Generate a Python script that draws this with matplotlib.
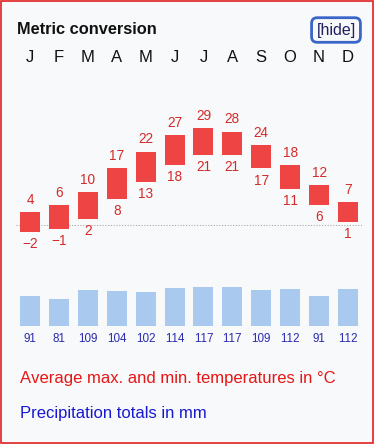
import matplotlib.pyplot as plt
import matplotlib.transforms as mtransforms
from matplotlib.patches import Rectangle

plt.rcParams['font.family'] = ['Liberation Sans', 'DejaVu Sans']
plt.rcParams['text.kerning_factor'] = 6  # el navegador no junta los "11"

# Daten
meses = ["J", "F", "M", "A", "M", "J", "J", "A", "S", "O", "N", "D"]
t_max = [4, 6, 10, 17, 22, 27, 29, 28, 24, 18, 12, 7]
t_min = [-2, -1, 2, 8, 13, 18, 21, 21, 17, 11, 6, 1]
precip = [91, 81, 109, 104, 102, 114, 117, 117, 109, 112, 91, 112]

W, H = 375, 444
fondo = "#f8f9fa"
rojo_barra = "#ef4444"
rojo_texto = "#d42a2a"
azul_barra = "#aac9ee"
azul_texto = "#2a2ab0"

fig = plt.figure(figsize=(W / 100, H / 100), dpi=100)
fig.patch.set_facecolor(fondo)

def caja(left, top, width, height):
    # convierte pixeles a fraccion de la figura
    return [left / W, (H - top - height) / H, width / W, height / H]

# temperaturas
ax_t = fig.add_axes(caja(15.55, 114.8, 346.9, 130.65))
ax_t.set_xlim(-0.5, 11.5)
ax_t.set_ylim(-6, 33)
x = list(range(12))
alturas = [a - b for a, b in zip(t_max, t_min)]
ax_t.bar(x, alturas, bottom=t_min, width=0.69, color=rojo_barra, zorder=2)
ax_t.axhline(0, color="#aaaaaa", lw=0.8, ls=(0, (1, 1.5)), zorder=1)
for i in x:
    ax_t.annotate(str(t_max[i]), (i, t_max[i]), xytext=(0, 8.8), textcoords="offset points",
                  ha="center", va="center", color=rojo_texto, fontsize=9.8)
    txt = str(t_min[i]).replace("-", "\u2212")
    ax_t.annotate(txt, (i, t_min[i]), xytext=(0, -8.8), textcoords="offset points",
                  ha="center", va="center", color=rojo_texto, fontsize=9.8)
ax_t.axis("off")

# letras de los meses
trans = mtransforms.blended_transform_factory(ax_t.transData, fig.transFigure)
for i, m in enumerate(meses):
    ax_t.text(i, 1 - 58 / H, m, transform=trans, ha="center", va="center",
              fontsize=12, color="#111111")

# precipitacion
ax_p = fig.add_axes(caja(15.55, 325.7 - 49.5, 346.9, 49.5))
ax_p.set_xlim(-0.5, 11.5)
ax_p.set_ylim(0, 150)
ax_p.bar(x, precip, width=0.69, color=azul_barra, zorder=2)
ax_p.axhline(0, color="#aaaaaa", lw=0.8, ls=(0, (1, 1.5)), zorder=1)
for i in x:
    ax_p.annotate(str(precip[i]), (i, 0), xytext=(0, -9.6), textcoords="offset points",
                  ha="center", va="center", color=azul_texto, fontsize=8.4)
ax_p.axis("off")

# titulo y textos
fig.text(17 / W, 1 - 29 / H, "Metric conversion", fontsize=11.8, fontweight="bold",
         ha="left", va="center", color="#111111")
fig.text(336 / W, 1 - 30 / H, "[hide]", fontsize=11.5, ha="center", va="center",
         color="#202060",
         bbox=dict(boxstyle="round,pad=0.3,rounding_size=0.35", fc="none",
                   ec="#3a66c8", lw=2))
fig.text(20 / W, 1 - 378 / H, "Average max. and min. temperatures in °C", fontsize=12,
         ha="left", va="center", color="#e81515")
fig.text(20 / W, 1 - 413 / H, "Precipitation totals in mm", fontsize=12,
         ha="left", va="center", color="#1818d0")

# borde rojo
fig.add_artist(Rectangle((0.5 / W, 1.5 / H), 372.5 / W, 441 / H, transform=fig.transFigure,
                         fill=False, edgecolor="#e02020", lw=1.2))

fig.savefig("out.png", dpi=100, facecolor=fondo)
